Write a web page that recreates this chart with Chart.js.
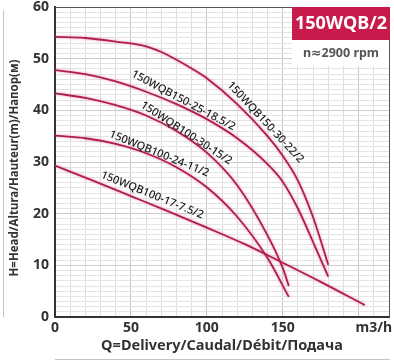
<!DOCTYPE html>
<html>
<head>
<meta charset="utf-8">
<script src="https://cdn.jsdelivr.net/npm/chart.js@4/dist/chart.umd.min.js"></script>
<style>
  html, body { margin: 0; padding: 0; background: #fff; }
  #wrap { width: 394px; height: 363px; }
</style>
</head>
<body>
<div id="wrap"><canvas id="c" width="394" height="363"></canvas></div>
<script>
// ---- data ----
const seriesNames = ['150WQB150-30-22/2', '150WQB150-25-18.5/2', '150WQB100-30-15/2', '150WQB100-24-11/2', '150WQB100-17-7.5/2'];
const q22 = [0, 20, 40, 60, 70, 80, 90, 100, 120, 140, 150, 160, 170, 180];
const h22 = [54.2, 54, 53.3, 52.4, 51.3, 49.8, 48.1, 46.2, 41.2, 35, 31.2, 26.4, 19.3, 10.1];
const q18 = [0, 20, 40, 60, 80, 100, 120, 140, 150, 160, 170, 180];
const h18 = [47.8, 47, 45.6, 43.6, 41.2, 38.3, 34.6, 29.6, 26.2, 21, 14.5, 7.8];
const q15 = [0, 20, 40, 60, 80, 100, 120, 140, 150, 154];
const h15 = [43.3, 42.4, 41, 39, 36, 31.8, 25.5, 15.8, 9.5, 6];
const q11 = [0, 20, 40, 60, 80, 100, 120, 140, 154];
const h11 = [35.1, 34.6, 33.5, 31.7, 29, 25.1, 19.4, 11.4, 3.9];
const q75 = [0, 25, 50, 75, 100, 125, 150, 175, 204];
const h75 = [29.3, 26.4, 23.4, 20.4, 17.3, 14.1, 10.5, 6.8, 2.3];
const xTickLabels = [0, 50, 100, 150];
const xUnitLabel = 'm3/h';
const yTickLabels = [0, 10, 20, 30, 40, 50, 60];
const titleBox = '150WQB/2';
const speedText = 'n≈2900 rpm';
const xTitle = 'Q=Delivery/Caudal/Débit/Подача';
const yTitle = 'H=Head/Altura/Hauteur(m)/Напор(м)';

// label placement (data-space centre + angle in degrees)
const curveLabels = [
  { text: seriesNames[0], q: 138.6, h: 37.7, angle: 47 },
  { text: seriesNames[1], q: 84.5, h: 41.9, angle: 28 },
  { text: seriesNames[2], q: 86.5, h: 35.6, angle: 33 },
  { text: seriesNames[3], q: 68.6, h: 31.6, angle: 22 },
  { text: seriesNames[4], q: 64, h: 23.6, angle: 22 }
];

const pairs = (qs, hs) => qs.map((q, i) => ({ x: q, y: hs[i] }));
const allSeries = [[q22, h22], [q18, h18], [q15, h15], [q11, h11], [q75, h75]];

const LINE = '#b01f4c';
const FONT = "'Noto Sans', 'DejaVu Sans', sans-serif";

const datasets = allSeries.map((s, i) => ({
  label: seriesNames[i],
  data: pairs(s[0], s[1]),
  showLine: true,
  borderColor: LINE,
  borderWidth: 1.8,
  pointRadius: 0,
  fill: false,
  cubicInterpolationMode: 'monotone'
}));

const decor = {
  id: 'decor',
  beforeDatasetsDraw(chart) {
    const ctx = chart.ctx;
    ctx.save();
    ctx.shadowColor = 'rgba(225,70,120,0.55)';
    ctx.shadowBlur = 3;
  },
  afterDatasetsDraw(chart) {
    const ctx = chart.ctx;
    ctx.restore();
    const xs = chart.scales.x, ys = chart.scales.y;
    const a = chart.chartArea;
    // curve labels
    ctx.save();
    ctx.fillStyle = '#1a1a1a';
    ctx.font = "500 11px " + FONT;
    ctx.textAlign = 'center';
    ctx.textBaseline = 'middle';
    curveLabels.forEach(l => {
      ctx.save();
      ctx.translate(xs.getPixelForValue(l.q), ys.getPixelForValue(l.h));
      ctx.rotate(l.angle * Math.PI / 180);
      ctx.fillText(l.text, 0, 0);
      ctx.restore();
    });
    // top / right frame
    ctx.strokeStyle = '#555';
    ctx.lineWidth = 1;
    ctx.beginPath();
    ctx.moveTo(a.left, a.top + 0.5);
    ctx.lineTo(a.right + 0.5, a.top + 0.5);
    ctx.lineTo(a.right + 0.5, a.bottom);
    ctx.stroke();
    // title box
    const bx = a.right - 97, by = a.top;
    ctx.fillStyle = '#fff';
    ctx.fillRect(bx, by + 33, 97, 26);
    ctx.fillStyle = '#c81a4b';
    ctx.fillRect(bx, by, 98, 33);
    ctx.fillStyle = '#fff';
    ctx.font = "bold 18px " + FONT;
    ctx.fillText(titleBox, bx + 49, by + 17);
    ctx.fillStyle = '#555';
    ctx.font = "bold 12.5px " + FONT;
    ctx.fillText(speedText, bx + 49, by + 46);
    // y-axis title
    ctx.fillStyle = '#333';
    ctx.font = "bold 11.5px " + FONT;
    ctx.save();
    ctx.translate(15, 168);
    ctx.rotate(-Math.PI / 2);
    ctx.fillText(yTitle, 0, 0);
    ctx.restore();
    // outer decoration lines
    ctx.strokeStyle = '#c4c4c4';
    ctx.beginPath();
    ctx.moveTo(3.5, a.top + 3);
    ctx.lineTo(3.5, a.bottom);
    ctx.moveTo(a.left, 359.5);
    ctx.lineTo(a.right + 1, 359.5);
    ctx.stroke();
    ctx.restore();
  }
};

new Chart(document.getElementById('c'), {
  type: 'scatter',
  data: { datasets },
  options: {
    responsive: false,
    devicePixelRatio: 1,
    animation: false,
    layout: { padding: { left: 0, right: 5, top: 7, bottom: 0 } },
    plugins: { legend: { display: false }, tooltip: { enabled: false } },
    scales: {
      x: {
        type: 'linear', min: 0, max: 220,
        ticks: {
          stepSize: 10, autoSkip: false, maxRotation: 0, padding: 3,
          color: '#333', font: { family: FONT, size: 14, weight: 'bold' },
          callback: v => xTickLabels.includes(v) ? String(v) : (v === 210 ? xUnitLabel : '')
        },
        grid: {
          drawTicks: false,
          color: c => (c.tick && c.tick.value % 50 === 0) ? '#c6c6c6' : '#dedede',
          lineWidth: 1
        },
        border: { display: true, color: '#333', width: 2 },
        title: {
          display: true, text: xTitle, color: '#333',
          font: { family: FONT, size: 14.5, weight: 'bold' },
          padding: { top: 0, bottom: 8 }
        },
        afterFit: s => { s.height = 46; s.paddingLeft = 0; s.paddingRight = 0; }
      },
      y: {
        min: 0, max: 60,
        ticks: {
          stepSize: 1, autoSkip: false, padding: 6,
          color: '#333', font: { family: FONT, size: 14, weight: 'bold' },
          callback: v => yTickLabels.includes(v) ? String(v) : ''
        },
        grid: {
          drawTicks: false,
          color: c => (c.tick && c.tick.value % 10 === 0) ? '#cccccc' : '#e4e4e4',
          lineWidth: 1
        },
        border: { display: true, color: '#333', width: 2 },
        title: { display: false },
        afterFit: s => { s.width = 55; s.paddingTop = 0; s.paddingBottom = 0; }
      }
    }
  },
  plugins: [decor]
});
</script>
</body>
</html>
